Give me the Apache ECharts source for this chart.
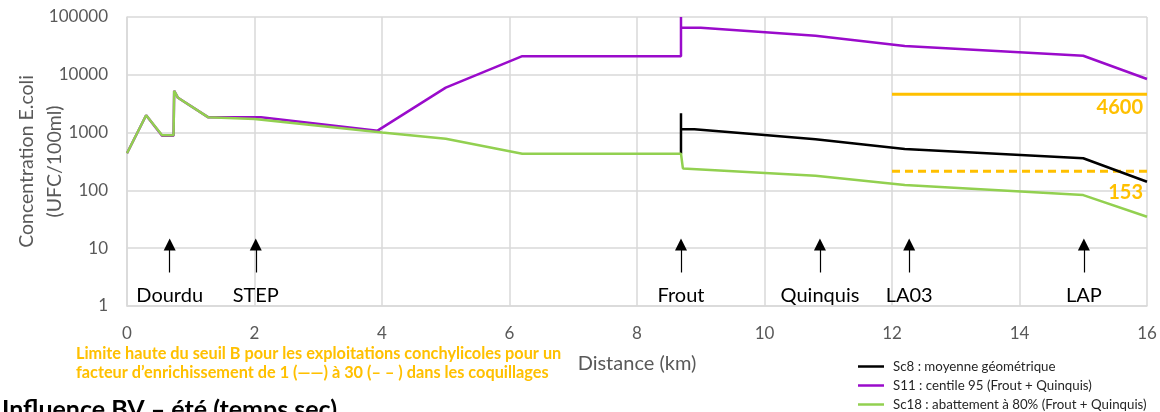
<!DOCTYPE html>
<html lang="fr">
<head>
<meta charset="UTF-8">
<title>Influence BV – été (temps sec)</title>
<script src="https://cdn.jsdelivr.net/npm/echarts@6/dist/echarts.min.js"></script>
<style>
  html, body { margin: 0; padding: 0; background: #fff; }
  #chart { width: 1160px; height: 412px; }
</style>
</head>
<body>
<div id="chart"></div>
<script>
// Distance (km) / concentration (UFC/100ml)
const sc8Data = [[8.69, 430], [8.69, 2160], [8.69, 1140], [8.9, 1140], [10, 910], [10.8, 770], [12.2, 520], [15, 360], [16, 141]];
const s11Data = [[0, 440], [0.3, 2000], [0.55, 880], [0.73, 880], [0.74, 5300], [0.8, 4000], [1.27, 1850], [2.1, 1850],
  [3.93, 1080], [5, 6000], [6.2, 21000], [8.69, 21000], [8.69, 100000], [8.69, 66000], [9, 65000],
  [10.8, 47500], [12.2, 31500], [15, 21400], [16, 8450]];
const sc18Data = [[0, 440], [0.3, 2000], [0.55, 900], [0.73, 900], [0.74, 5300], [0.8, 4000], [1.27, 1850], [2, 1720],
  [4, 1000], [5, 780], [6.2, 430], [8.69, 430], [8.72, 240], [10.8, 180], [12.2, 124], [15, 83], [16, 35]];

// seuil B limits (drawn from 12 to 16 km)
const limitX = [12, 16];
const limitSolid = 4600;
const limitDashed = 215;
const limitLabels = ['4600', '153'];

// arrows for the outlets
const arrowX = [0.67, 2.02, 8.69, 10.87, 12.27, 15.01];
const arrowNames = ['Dourdu', 'STEP', 'Frout', 'Quinquis', 'LA03', 'LAP'];
const arrowFrom = 3.8;
const arrowTo = 11.6;

const seriesNames = ['Sc8 : moyenne géométrique', 'S11 : centile 95 (Frout + Quinquis)', 'Sc18 : abattement à 80% (Frout + Quinquis)'];

const orange = '#FFC000';
const gridColor = '#D9D9D9';
const grey = '#595959';
const font = 'Lato, "Open Sans", sans-serif';

const chart = echarts.init(document.getElementById('chart'));

function limitSeries(v, text, dashed, offsetY) {
  return {
    type: 'line',
    name: text,
    data: [[limitX[0], v], {
      value: [limitX[1], v],
      label: {
        show: true, formatter: text, position: 'bottom', distance: offsetY,
        align: 'right', offset: [-4, 0],
        color: orange, fontWeight: 'bold', fontSize: 20, fontFamily: font
      }
    }],
    symbol: 'circle',
    symbolSize: 0,
    showSymbol: true,
    lineStyle: { color: orange, width: 3, type: dashed ? [8, 5] : 'solid' },
    itemStyle: { color: orange },
    silent: true, z: 3
  };
}

const option = {
  animation: false,
  textStyle: { fontFamily: font },
  grid: { left: 127, right: 13, top: 17, bottom: 106, outerBoundsMode: 'none', containLabel: false },
  legend: {
    data: seriesNames,
    orient: 'vertical',
    left: 858, top: 360, padding: 0, height: 80,
    icon: 'rect',
    itemWidth: 26, itemHeight: 2.5, itemGap: 6,
    textStyle: { fontSize: 13.3, color: '#262626', fontFamily: font, padding: [0, 0, 0, 4] }
  },
  xAxis: {
    type: 'value', min: 0, max: 16, interval: 2,
    name: 'Distance (km)', nameLocation: 'middle', nameGap: 48,
    nameTextStyle: { color: grey, fontSize: 20, fontFamily: font },
    axisLine: { lineStyle: { color: gridColor, width: 1.5 } },
    axisTick: { show: false },
    axisLabel: { color: grey, fontSize: 17, margin: 19, fontFamily: font },
    splitLine: { lineStyle: { color: gridColor, width: 1.5 } }
  },
  yAxis: {
    type: 'log', logBase: 10, min: 1, max: 100000,
    name: 'Concentration E.coli\n(UFC/100ml)', nameLocation: 'middle', nameGap: 58, nameRotate: 90,
    nameMoveOverlap: false,
    nameTextStyle: { color: grey, fontSize: 19.5, lineHeight: 28, fontFamily: font },
    axisLine: { show: true, lineStyle: { color: gridColor, width: 1.5 } },
    axisTick: { show: false },
    axisLabel: { color: grey, fontSize: 17, margin: 19, fontFamily: font, formatter: v => String(Math.round(v)) },
    splitLine: { lineStyle: { color: gridColor, width: 1.5 } }
  },
  graphic: [
    {
      type: 'text', left: 76, top: 344,
      style: {
        text: 'Limite haute du seuil B pour les exploitations conchylicoles pour un\nfacteur d\u2019enrichissement de 1 (\u2014\u2014) à 30 (\u2013 \u2013 ) dans les coquillages',
        fill: orange, font: 'bold 16.3px ' + font, lineHeight: 19
      }
    },
    {
      type: 'text', left: 2, top: 397,
      style: { text: 'Influence BV \u2013 été (temps sec)', fill: '#000', font: 'bold 25px ' + font }
    }
  ],
  series: [
    {
      name: seriesNames[0], type: 'line', data: sc8Data, symbol: 'none', showSymbol: false,
      color: '#000', lineStyle: { color: '#000', width: 2.5 }, z: 4
    },
    {
      name: seriesNames[1], type: 'line', data: s11Data, symbol: 'none', showSymbol: false,
      color: '#9A0BCB', lineStyle: { color: '#9A0BCB', width: 2.5 }, z: 4
    },
    {
      name: seriesNames[2], type: 'line', data: sc18Data, symbol: 'none', showSymbol: false,
      color: '#92D050', lineStyle: { color: '#92D050', width: 2.5 }, z: 5
    },
    limitSeries(limitSolid, limitLabels[0], false, 3),
    limitSeries(limitDashed, limitLabels[1], true, 11),
    {
      name: 'arrows', type: 'line', data: [], silent: true,
      markLine: {
        silent: true, animation: false,
        symbol: ['none', 'triangle'], symbolSize: [12, 12],
        lineStyle: { color: '#000', width: 1.2, type: 'solid' },
        label: { show: true, position: 'start', distance: 13, color: '#000', fontSize: 20, fontFamily: font },
        data: arrowX.map((x, i) => [
          { coord: [x, arrowFrom], name: arrowNames[i], label: { formatter: arrowNames[i] } },
          { coord: [x, arrowTo] }
        ])
      }
    }
  ]
};

chart.setOption(option);
</script>
</body>
</html>
